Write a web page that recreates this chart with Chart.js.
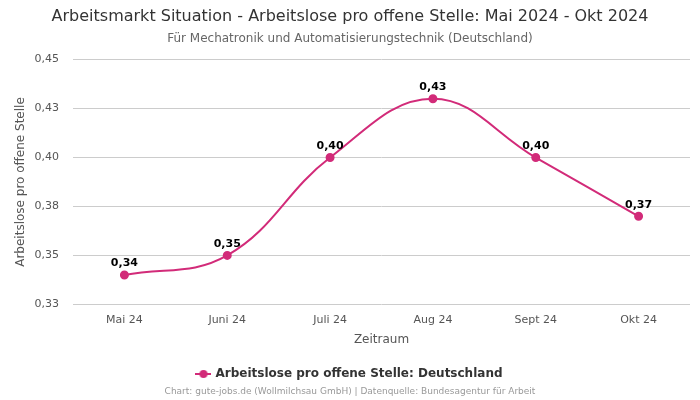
<!DOCTYPE html>
<html>
<head>
<meta charset="utf-8">
<script src="https://cdn.jsdelivr.net/npm/chart.js@4/dist/chart.umd.min.js"></script>
<style>
  html, body { margin: 0; padding: 0; background: #fff; }
  #wrap { width: 700px; height: 400px; }
</style>
</head>
<body>
<div id="wrap"><canvas id="grafica"></canvas></div>
<script>
// datos del grafico
var meses = ['Mai 24', 'Juni 24', 'Juli 24', 'Aug 24', 'Sept 24', 'Okt 24'];
var valores = [0.34, 0.35, 0.40, 0.43, 0.40, 0.37];
var serie = 'Arbeitslose pro offene Stelle: Deutschland';
var titulo = 'Arbeitsmarkt Situation - Arbeitslose pro offene Stelle: Mai 2024 - Okt 2024';
var subtitulo = 'Für Mechatronik und Automatisierungstechnik (Deutschland)';
var pie = 'Chart: gute-jobs.de (Wollmilchsau GmbH) | Datenquelle: Bundesagentur für Arbeit';

var fuente = "'DejaVu Sans', sans-serif";
var rosa = '#d22b79';

function convert(v) {
    return (Math.round(v * 100) / 100).toFixed(2).replace('.', ',');
}

// icono de la leyenda: linea con punto
var icono = document.createElement('canvas');
icono.width = 16; icono.height = 10;
var ic = icono.getContext('2d');
ic.strokeStyle = rosa; ic.lineWidth = 2;
ic.beginPath(); ic.moveTo(0, 5); ic.lineTo(16, 5); ic.stroke();
ic.fillStyle = rosa;
ic.beginPath(); ic.arc(8, 5, 4, 0, Math.PI * 2); ic.fill();

var etiquetas = {
    id: 'etiquetas',
    afterDatasetsDraw: function (chart) {
        var ctx = chart.ctx;
        var meta = chart.getDatasetMeta(0);
        ctx.save();
        ctx.font = 'bold 11px ' + fuente;
        ctx.fillStyle = '#000';
        ctx.textAlign = 'center';
        ctx.textBaseline = 'bottom';
        meta.data.forEach(function (p, i) {
            ctx.fillText(convert(valores[i]), p.x, p.y - 6);
        });
        ctx.restore();
    }
};

var piePagina = {
    id: 'piePagina',
    afterDraw: function (chart) {
        var ctx = chart.ctx;
        ctx.save();
        ctx.font = '9px ' + fuente;
        ctx.fillStyle = '#999';
        ctx.textAlign = 'center';
        ctx.textBaseline = 'middle';
        ctx.fillText(pie, chart.width / 2, 392);
        ctx.restore();
    }
};

var grafica = new Chart(document.getElementById('grafica'), {
    type: 'line',
    data: {
        labels: meses,
        datasets: [{
            label: serie,
            data: valores,
            borderColor: rosa,
            backgroundColor: rosa,
            borderWidth: 2,
            tension: 0.4,
            pointRadius: 3.5,
            pointHoverRadius: 5,
            fill: false
        }]
    },
    options: {
        responsive: true,
        maintainAspectRatio: false,
        animation: false,
        layout: { padding: { left: 10, right: 10, top: 0, bottom: 10 } },
        plugins: {
            title: {
                display: true,
                text: titulo,
                color: '#333',
                font: { family: fuente, size: 16, weight: 'normal' },
                padding: { top: 7, bottom: 5 }
            },
            subtitle: {
                display: true,
                text: subtitulo,
                color: '#666',
                font: { family: fuente, size: 12 },
                padding: { bottom: 14 }
            },
            legend: {
                position: 'bottom',
                labels: {
                    color: '#333',
                    font: { family: fuente, size: 12, weight: 'bold' },
                    usePointStyle: true,
                    padding: 12,
                    generateLabels: function (chart) {
                        return [{
                            text: serie,
                            pointStyle: icono,
                            fillStyle: rosa,
                            strokeStyle: rosa,
                            fontColor: '#333',
                            datasetIndex: 0
                        }];
                    }
                }
            },
            tooltip: { enabled: false }
        },
        scales: {
            x: {
                offset: true,
                grid: { display: false },
                border: { display: false },
                ticks: { color: '#555', font: { family: fuente, size: 11 }, padding: 1 },
                title: { display: true, text: 'Zeitraum', color: '#555', font: { family: fuente, size: 12 }, padding: { top: 5, bottom: 9 } }
            },
            y: {
                min: 0.325,
                max: 0.45,
                grid: { color: '#cccccc', drawTicks: false },
                border: { display: false },
                afterFit: function (scale) { scale.width = 63; },
                ticks: {
                    stepSize: 0.025,
                    color: '#555',
                    padding: 14,
                    font: { family: fuente, size: 11 },
                    callback: function (v) { return convert(v); }
                },
                title: { display: true, text: 'Arbeitslose pro offene Stelle', color: '#555', font: { family: fuente, size: 12 } }
            }
        }
    },
    plugins: [etiquetas, piePagina]
});
</script>
</body>
</html>
